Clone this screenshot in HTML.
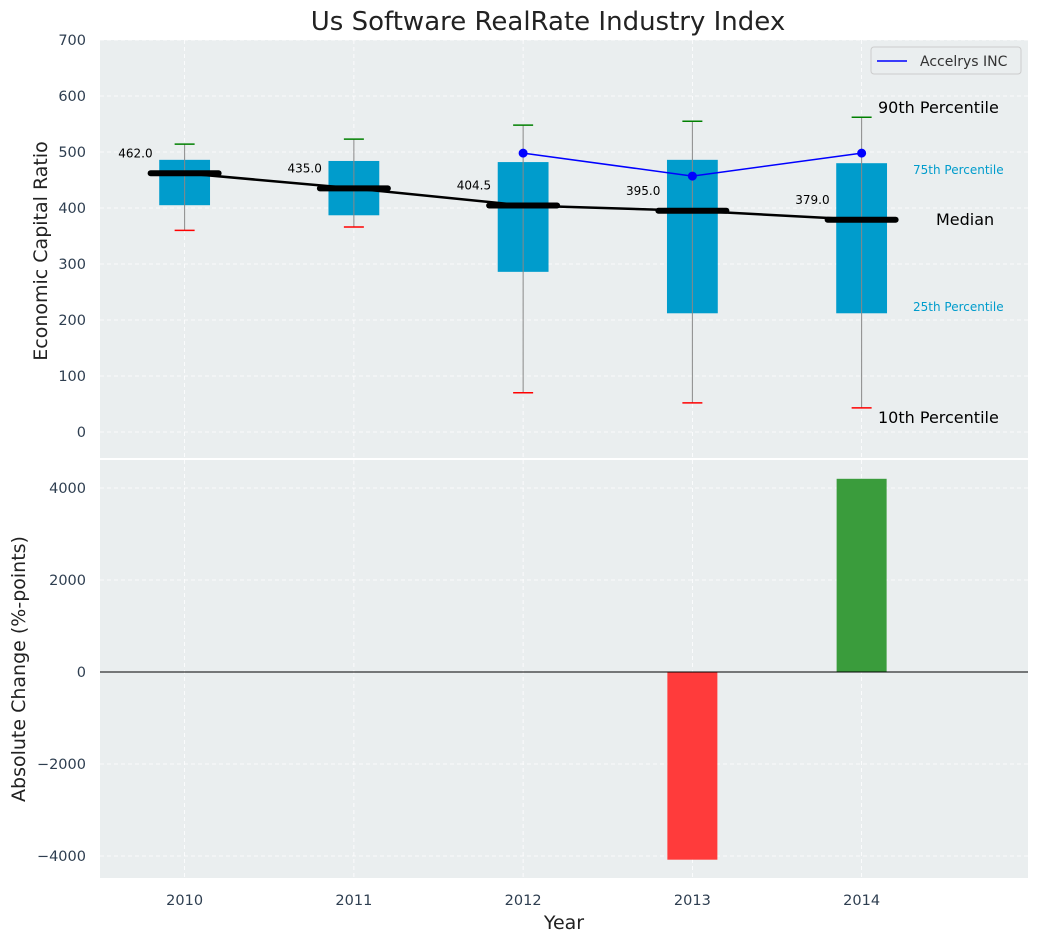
<!DOCTYPE html>
<html><head><meta charset="utf-8"><style>
body{margin:0;background:#fff;}
svg{font-family:"DejaVu Sans","Liberation Sans",sans-serif;}
</style></head><body>
<svg id="c" width="1039" height="942" xmlns="http://www.w3.org/2000/svg"></svg>
<script>
const years=[2010,2011,2012,2013,2014];
const p10=[360,366,70,52,43];
const q1=[405,387,286,212,212];
const med=[462,435,404.5,395,379];
const q3=[486,484,482,486,480];
const p90=[514,523,548,555,562];
const companyYears=[2012,2013,2014];
const companyVals=[498,457,498];
const changeYears=[2013,2014];
const changeVals=[-4080,4200];
const yTicksTop=[0,100,200,300,400,500,600,700];
const yTicksBot=[-4000,-2000,0,2000,4000];

const NS="http://www.w3.org/2000/svg";
const svg=document.getElementById('c');
function mk(t,a,p){const e=document.createElementNS(NS,t);for(const k in a)e.setAttribute(k,a[k]);(p||svg).appendChild(e);return e;}
const X=v=>100+(v-2009.5)*169.25;
const YT=v=>432-v*0.56;
const YB=v=>672-v*0.046;

let r=mk('rect',{x:100,y:40,width:928,height:418,fill:'#eaeeef'});

r=mk('rect',{x:100,y:460,width:928,height:418,fill:'#eaeeef'});


years.forEach(y=>{
 mk('line',{x1:X(y),x2:X(y),y1:40,y2:458,stroke:'#fff','stroke-dasharray':'4,3','stroke-width':0.8});
 mk('line',{x1:X(y),x2:X(y),y1:460,y2:878,stroke:'#fff','stroke-dasharray':'4,3','stroke-width':0.8});
 let t=mk('text',{x:X(y),y:905,'text-anchor':'middle','font-size':14.5,fill:'#2e3e50'});t.textContent=y;
 
});
yTicksTop.forEach(v=>{
 mk('line',{x1:100,x2:1028,y1:YT(v),y2:YT(v),stroke:'#fff','stroke-dasharray':'4,3','stroke-width':0.8});
 let t=mk('text',{x:86,y:YT(v)+5,'text-anchor':'end','font-size':14.5,fill:'#2e3e50'});t.textContent=v;
 
});
yTicksBot.forEach(v=>{
 mk('line',{x1:100,x2:1028,y1:YB(v),y2:YB(v),stroke:'#fff','stroke-dasharray':'4,3','stroke-width':0.8});
 let t=mk('text',{x:86,y:YB(v)+5,'text-anchor':'end','font-size':14.5,fill:'#2e3e50'});t.textContent=(v<0?'\u2212'+(-v):v);
 
});

years.forEach((y,i)=>{
 const cx=X(y);
 let b=mk('rect',{x:cx-25.4,y:YT(q3[i]),width:50.8,height:YT(q1[i])-YT(q3[i]),fill:'#009ccc'});
 
 mk('line',{x1:cx,x2:cx,y1:YT(p10[i]),y2:YT(p90[i]),stroke:'#888','stroke-width':1});
 let c=mk('line',{x1:cx-10,x2:cx+10,y1:YT(p90[i]),y2:YT(p90[i]),stroke:'green','stroke-width':1.5});
 
 c=mk('line',{x1:cx-10,x2:cx+10,y1:YT(p10[i]),y2:YT(p10[i]),stroke:'red','stroke-width':1.5});
 
 let m=mk('line',{x1:cx-34,x2:cx+34,y1:YT(med[i]),y2:YT(med[i]),stroke:'#000','stroke-width':6,'stroke-linecap':'round'});
 
 let t=mk('text',{x:cx-32,y:YT(med[i])-16,'text-anchor':'end','font-size':12,fill:'#000'});t.textContent=med[i].toFixed(1);
 
});
let pl=mk('polyline',{points:years.map((y,i)=>X(y)+','+YT(med[i])).join(' '),fill:'none',stroke:'#000','stroke-width':2.5});

pl=mk('polyline',{points:companyYears.map((y,i)=>X(y)+','+YT(companyVals[i])).join(' '),fill:'none',stroke:'blue','stroke-width':1.5});

companyYears.forEach((y,i)=>{let d=mk('circle',{cx:X(y),cy:YT(companyVals[i]),r:4.5,fill:'blue'});
 });

const ann=[['90th Percentile',878,113,16,'#000'],['75th Percentile',913,174,12,'#009ccc'],['Median',936,225,16,'#000'],['25th Percentile',913,311,12,'#009ccc'],['10th Percentile',878,423,16,'#000']];
ann.forEach(a=>{let t=mk('text',{x:a[1],y:a[2],'font-size':a[3],fill:a[4]});t.textContent=a[0];
 });

changeYears.forEach((y,i)=>{const v=changeVals[i];
 let b=mk('rect',{x:X(y)-25,y:Math.min(YB(0),YB(v)),width:50,height:Math.abs(YB(v)-YB(0)),fill:v<0?'#ff3b3b':'#3a9c3c'});
 });
mk('line',{x1:100,x2:1028,y1:YB(0),y2:YB(0),stroke:'#000','stroke-width':1});

let lg=mk('g',{});
mk('rect',{x:871,y:47,width:150,height:27,fill:'#eaeeef',stroke:'#ccc',rx:3},lg);
mk('line',{x1:877,x2:907,y1:61,y2:61,stroke:'blue','stroke-width':1.5},lg);
let lt=mk('text',{x:920,y:66,'font-size':14,fill:'#333'},lg);lt.textContent='Accelrys INC';

let t=mk('text',{x:548,y:30,'text-anchor':'middle','font-size':26,fill:'#222'});t.textContent='Us Software RealRate Industry Index';

t=mk('text',{x:564,y:929,'text-anchor':'middle','font-size':19,fill:'#222'});t.textContent='Year';

t=mk('text',{x:0,y:0,'text-anchor':'middle','font-size':19,fill:'#222',transform:'translate(47,251) rotate(-90)'});t.textContent='Economic Capital Ratio';

t=mk('text',{x:0,y:0,'text-anchor':'middle','font-size':19,fill:'#222',transform:'translate(25,669) rotate(-90)'});t.textContent='Absolute Change (%-points)';

</script>
</body></html>
